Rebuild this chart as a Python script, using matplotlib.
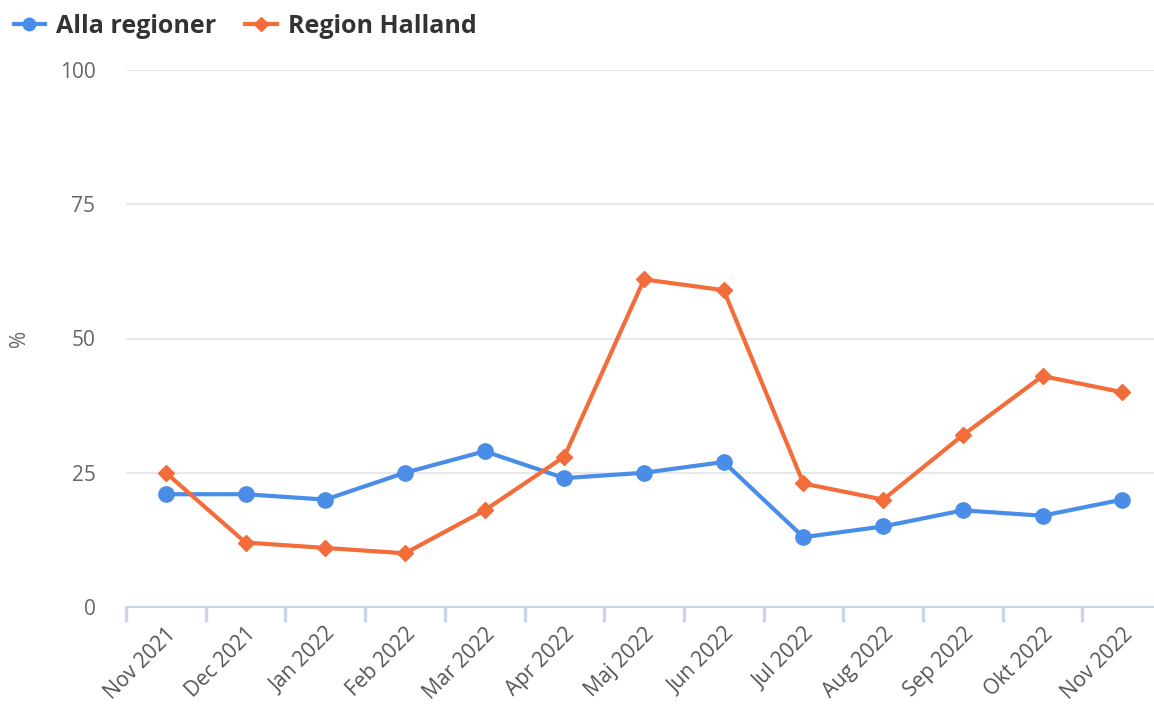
import matplotlib.pyplot as plt
from matplotlib.lines import Line2D

manader = ['Nov 2021', 'Dec 2021', 'Jan 2022', 'Feb 2022', 'Mar 2022', 'Apr 2022',
           'Maj 2022', 'Jun 2022', 'Jul 2022', 'Aug 2022', 'Sep 2022', 'Okt 2022',
           'Nov 2022']
alla_regioner = [21, 21, 20, 25, 29, 24, 25, 27, 13, 15, 18, 17, 20]
region_halland = [25, 12, 11, 10, 18, 28, 61, 59, 23, 20, 32, 43, 40]
y_ticks = [0, 25, 50, 75, 100]

BLA = '#4a8de8'
ORANGE = '#f26d3a'

plt.rcParams['font.family'] = ['Open Sans', 'DejaVu Sans']

fig = plt.figure(figsize=(11.54, 7.13), dpi=100)
ax = fig.add_axes([126 / 1154, 1 - 607 / 713, 1 - 126 / 1154, (607 - 70) / 713])

x = list(range(len(manader)))
ax.plot(x, alla_regioner, color=BLA, lw=3, marker='o', ms=11, zorder=3,
        solid_joinstyle='round')
ax.plot(x, region_halland, color=ORANGE, lw=3, marker='D', ms=8, zorder=3,
        solid_joinstyle='round')

# kategoribredd ~79.7 px, axeln klipps vid bildkanten
ax.set_xlim(-0.5, -0.5 + (1154 - 126) / 79.7)
ax.set_ylim(0, 100)

ax.set_yticks(y_ticks)
ax.set_yticklabels([str(v) for v in y_ticks])
ax.grid(axis='y', color='#e6e6e6', lw=1.3)
ax.set_axisbelow(True)

# tickmarkeringar mellan kategorierna
ax.set_xticks([i - 0.5 for i in x], minor=False)
ax.set_xticklabels([])
ax.set_xticks(x, minor=True)
ax.set_xticklabels(manader, minor=True, rotation=45, ha='right',
                   rotation_mode='anchor', fontsize=15, color='#555555')
ax.tick_params(axis='x', which='minor', length=0, pad=12)
ax.tick_params(axis='x', which='major', length=11, width=2.5, color='#ccd6eb')
ax.tick_params(axis='y', length=0, pad=22, labelsize=15, labelcolor='#666666')

for s in ['top', 'right', 'left']:
    ax.spines[s].set_visible(False)
ax.spines['bottom'].set_color('#ccd6eb')
ax.spines['bottom'].set_linewidth(1.5)

ax.set_ylabel('%', fontsize=15, color='#666666')
ax.yaxis.set_label_coords((30 - 126) / 1028, 0.5)

handles = [
    Line2D([], [], color=BLA, lw=3, marker='o', ms=9),
    Line2D([], [], color=ORANGE, lw=3, marker='D', ms=7),
]
fig.legend(handles, ['Alla regioner', 'Region Halland'], loc='upper left',
           bbox_to_anchor=(0.0, 1.0), ncol=2, frameon=False, handlelength=1.25,
           columnspacing=1.15, handletextpad=0.45,
           prop={'size': 18, 'weight': 'bold'}, labelcolor='#333333',
           borderaxespad=0.15)

fig.savefig('out.png', dpi=100, facecolor='white')
